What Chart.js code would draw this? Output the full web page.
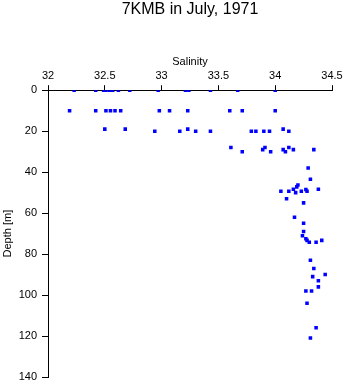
<!DOCTYPE html>
<html>
<head>
<meta charset="utf-8">
<script src="https://cdn.jsdelivr.net/npm/chart.js@4"></script>
<style>
  html, body { margin: 0; padding: 0; background: #fff; }
  #wrap { width: 346px; height: 384px; }
</style>
</head>
<body>
<div id="wrap"><canvas id="myChart" width="346" height="384"></canvas></div>
<script>
  // salinity / depth pairs
  const salinity = [
    32.23, 32.42, 32.49, 32.51, 32.54, 32.57, 32.62, 32.72, 32.97, 33.21, 33.24, 33.43, 33.67, 34.00,
    32.19, 32.42, 32.51, 32.55, 32.59, 32.64, 32.98, 33.07, 33.23, 33.60, 33.71, 34.00,
    32.50, 32.68, 32.94, 33.16, 33.23, 33.30, 33.43, 33.79, 33.83, 33.90, 33.95, 34.07, 34.12,
    33.61, 33.71, 33.89, 33.91, 33.96, 34.07, 34.09, 34.12, 34.16, 34.34,
    34.29, 34.31, 34.20, 34.19, 34.16, 34.38, 34.05, 34.12, 34.18, 34.23, 34.27, 34.28,
    34.10, 34.25, 34.17, 34.25, 34.25, 34.24, 34.27, 34.28, 34.30, 34.36, 34.41,
    34.31, 34.34, 34.44, 34.33, 34.38, 34.38, 34.27, 34.32, 34.28, 34.36, 34.31
  ];
  const depth = [
    0, 0, 0, 0, 0, 0, 0, 0, 0, 0, 0, 0, 0, 0,
    10, 10, 10, 10, 10, 10, 10, 10, 10, 10, 10, 10,
    19, 19, 20, 20, 19, 20, 20, 20, 20, 20, 20, 19, 20,
    28, 30, 29, 28, 30, 29, 30, 28, 29, 29,
    38, 43.5, 46.3, 47.2, 48.3, 48.3, 49.3, 49.3, 50, 49.3, 48.5, 49.3,
    53, 55, 62, 65, 69, 71, 72.5, 73.3, 74.2, 74.2, 73.3,
    83, 87, 90, 91, 93, 96, 98, 98, 104, 116, 121
  ];
  const xTicks = [32, 32.5, 33, 33.5, 34, 34.5];
  const yTicks = [0, 20, 40, 60, 80, 100, 120, 140];

  const points = salinity.map((s, i) => ({ x: s, y: depth[i] }));
  const font = { family: 'Liberation Sans', size: 11 };

  const ctx = document.getElementById('myChart');
  new Chart(ctx, {
    type: 'scatter',
    data: {
      datasets: [{
        data: points,
        pointStyle: 'rect',
        pointRadius: 2.5,
        pointBorderWidth: 0,
        backgroundColor: '#0000ff',
        borderColor: '#0000ff'
      }]
    },
    options: {
      responsive: false,
      animation: false,
      layout: { padding: { left: 0, right: 14, top: 0, bottom: 7 } },
      plugins: {
        legend: { display: false },
        tooltip: { enabled: false },
        title: {
          display: true,
          text: '7KMB in July, 1971',
          fullSize: false,
          color: '#000',
          font: { family: 'Liberation Sans', size: 16, weight: 'normal', lineHeight: 1.2 },
          padding: { top: 0, bottom: 31 }
        }
      },
      scales: {
        x: {
          type: 'linear',
          position: 'top',
          min: 32,
          max: 34.5,
          afterBuildTicks: (scale) => { scale.ticks = xTicks.map(v => ({ value: v })); },
          afterFit: (scale) => {
            scale.height = 40;
            scale.paddingLeft = 0;
            scale.paddingRight = 0;
          },
          ticks: { color: '#000', font: font, padding: 3, maxRotation: 0, callback: (v) => String(v) },
          grid: { drawOnChartArea: false, drawTicks: true, tickLength: 5, color: '#000' },
          border: { display: true, color: '#000', width: 1 },
          title: { display: true, text: 'Salinity', color: '#000', font: font, padding: { top: 5, bottom: 0 } }
        },
        y: {
          type: 'linear',
          reverse: true,
          min: 0,
          max: 140,
          afterBuildTicks: (scale) => { scale.ticks = yTicks.map(v => ({ value: v })); },
          afterFit: (scale) => {
            scale.width = 48;
            scale.paddingTop = 0;
            scale.paddingBottom = 0;
          },
          ticks: { color: '#000', font: font, padding: 5 },
          grid: { drawOnChartArea: false, drawTicks: true, tickLength: 6, color: '#000' },
          border: { display: true, color: '#000', width: 1 },
          title: { display: true, text: 'Depth [m]', color: '#000', font: font, padding: { top: 1, bottom: 0 } }
        }
      }
    }
  });
</script>
</body>
</html>
